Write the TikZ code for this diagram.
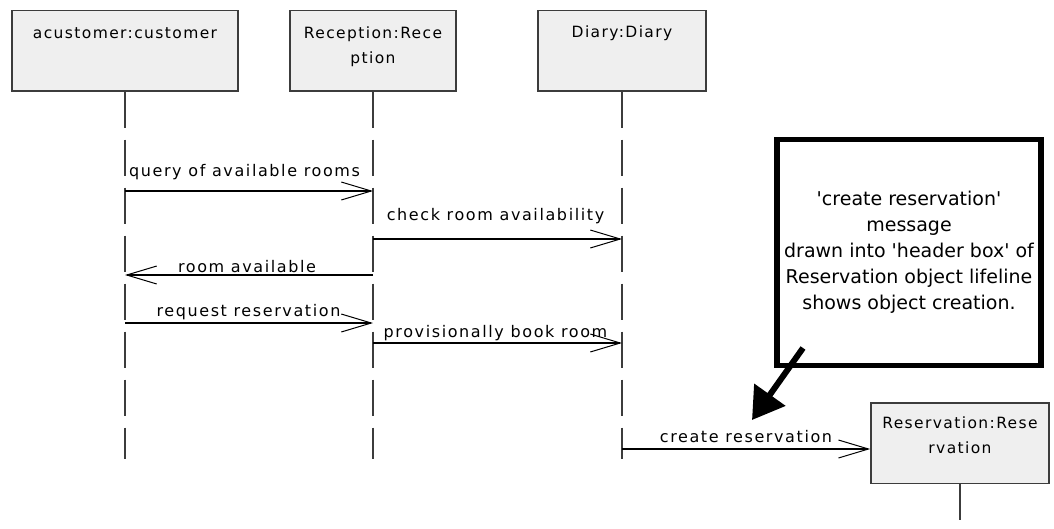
\documentclass[tikz,border=0pt]{standalone}
\usepackage{fontspec}
\usetikzlibrary{arrows.meta}
\newfontfamily\umlfont{DejaVu Sans}[LetterSpace=9]
\newfontfamily\msgfont{DejaVu Sans}[LetterSpace=10]
\newfontfamily\notefont{DejaVu Sans}
\definecolor{boxfill}{HTML}{EFEFEF}
\definecolor{boxline}{HTML}{3C3C3C}

\begin{document}
\begin{tikzpicture}[x=1pt,y=-1pt,
  objbox/.style={draw=boxline, fill=boxfill, line width=1.6pt, minimum height=80.5pt, inner sep=0pt, anchor=north},
  objname/.style={font=\umlfont\fontsize{15.5}{25}\selectfont, align=center, anchor=base, inner sep=0pt},
  lifeline/.style={draw=boxline, line width=1.4pt, dash pattern=on 36pt off 12pt},
  msg/.style={draw=black, line width=1.2pt, -{Straight Barb[length=30pt,width=18pt,line width=1pt]}},
  msglabel/.style={font=\msgfont\fontsize{16}{18}\selectfont, anchor=base, inner sep=0pt},
  notebox/.style={draw=black, fill=white, line width=5.7pt, minimum width=264.4pt, minimum height=226pt, inner sep=0pt, align=center, font=\notefont\fontsize{19}{26}\selectfont},
  pointer/.style={draw=black, line width=6pt, -{Triangle[length=31pt,width=37pt]}}
]
\useasboundingbox (0,0) rectangle (1054,528);

% object header boxes
\node[objbox, minimum width=226pt] (cust)  at (125,9.5) {};
\node[objbox, minimum width=166pt] (recep) at (373,9.5) {};
\node[objbox, minimum width=168pt] (diary) at (622,9.5) {};
\node[objbox, minimum width=178pt] (res)   at (960,402.2) {};

% object names (base anchor sits on the last line)
\node[objname] (cust-name)  at (125,38)  {acustomer:customer};
\node[objname] (recep-name) at (373,63)  {Reception:Rece\\ption};
\node[objname] (diary-name) at (622,37)  {Diary:Diary};
\node[objname] (res-name)   at (960,453) {Reservation:Rese\\rvation};

% lifelines
\coordinate (lifeend) at (0,459);
\coordinate (resend) at (0,520);
\draw[lifeline] (cust.south)  -- (cust.south |- lifeend);
\draw[lifeline] (recep.south) -- (recep.south |- lifeend);
\draw[lifeline] (diary.south) -- (diary.south |- lifeend);
\draw[lifeline] (res.south)   -- (res.south |- resend);

% message times
\coordinate (t1) at (0,191);
\coordinate (t2) at (0,239);
\coordinate (t3) at (0,275);
\coordinate (t4) at (0,323);
\coordinate (t5) at (0,343);
\coordinate (t6) at (0,449);

% messages
\draw[msg] (cust |- t1)  -- (recep |- t1);
\draw[msg] (recep |- t2) -- (diary |- t2);
\draw[msg] (recep |- t3) -- (cust |- t3);
\draw[msg] (cust |- t4)  -- (recep |- t4);
\draw[msg] (recep |- t5) -- (diary |- t5);
\draw[msg] (diary |- t6) -- (res.west |- t6);

\node[msglabel] (m1) at (244.5,176) {query of available rooms};
\node[msglabel] (m2) at (495.5,220) {check room availability};
\node[msglabel] (m3) at (247,272)   {room available};
\node[msglabel] (m4) at (248.5,316) {request reservation};
\node[msglabel] (m5) at (495.5,337) {provisionally book room};
\node[msglabel] (m6) at (746,442)   {create reservation};

% explanatory note
\node[notebox] (note) at (909,252.5) {'create reservation'\\message\\drawn into 'header box' of\\Reservation object lifeline\\shows object creation.};
\coordinate (ptr-start) at (803,348);
\coordinate (ptr-end) at (752,420);
\draw[pointer] (ptr-start) -- (ptr-end);
\end{tikzpicture}
\end{document}
